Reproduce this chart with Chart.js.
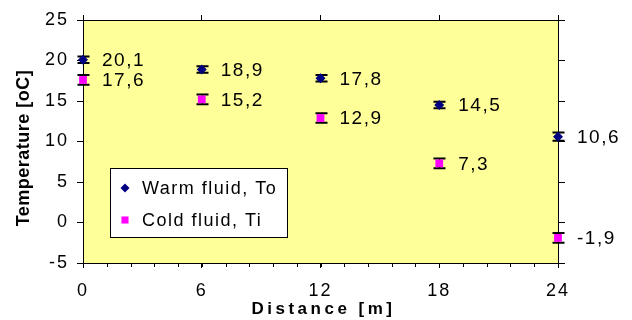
<!DOCTYPE html>
<html>
<head>
<meta charset="utf-8">
<script src="https://cdn.jsdelivr.net/npm/chart.js@4/dist/chart.umd.min.js"></script>
<style>
  html, body { margin: 0; padding: 0; background: #fff; }
  #wrap { width: 632px; height: 320px; }
</style>
</head>
<body>
<div id="wrap"><canvas id="chart" width="632" height="320"></canvas></div>
<script>
// data
const distances = [0, 6, 12, 18, 24];
const warmTemps = [20.1, 18.9, 17.8, 14.5, 10.6];
const coldTemps = [17.6, 15.2, 12.9, 7.3, -1.9];
const warmErr = [0.4, 0.4, 0.4, 0.4, 0.5];
const coldErr = [0.6, 0.6, 0.6, 0.6, 0.6];
const xTickValues = [0, 6, 12, 18, 24];
const yTickValues = [-5, 0, 5, 10, 15, 20, 25];
const xMinorStep = 1.2;

const fontFamily = "'Liberation Sans', Arial, sans-serif";

function toPoints(xs, ys) {
    return xs.map((x, i) => ({ x: x, y: ys[i] }));
}

function fixTicks(values) {
    return function (scale) {
        scale.ticks = values.map(v => ({ value: v }));
    };
}

// yellow plot background + global letter spacing for tick labels
const backgroundPlugin = {
    id: 'plotBackground',
    beforeDraw(chart) {
        const { ctx, chartArea } = chart;
        ctx.save();
        ctx.fillStyle = '#FFFF99';
        ctx.fillRect(chartArea.left, chartArea.top, chartArea.right - chartArea.left, chartArea.bottom - chartArea.top);
        ctx.restore();
        ctx.letterSpacing = '2px';
    }
};

// small ticks under the x axis
const minorTicksPlugin = {
    id: 'minorTicks',
    afterDraw(chart) {
        const ctx = chart.ctx;
        const xs = chart.scales.x;
        const bottom = chart.chartArea.bottom;
        ctx.save();
        ctx.strokeStyle = '#000';
        ctx.lineWidth = 1;
        for (let v = xs.min + xMinorStep; v < xs.max; v += xMinorStep) {
            const px = Math.round(xs.getPixelForValue(v)) + 0.5;
            ctx.beginPath();
            ctx.moveTo(px, bottom);
            ctx.lineTo(px, bottom + 4);
            ctx.stroke();
        }
        ctx.restore();
    }
};

const errorBarPlugin = {
    id: 'errorBars',
    beforeDatasetsDraw(chart) {
        const ctx = chart.ctx;
        const ys = chart.scales.y;
        ctx.save();
        ctx.strokeStyle = '#000';
        chart.data.datasets.forEach((ds, di) => {
            const meta = chart.getDatasetMeta(di);
            meta.data.forEach((pt, i) => {
                const v = ds.data[i].y;
                const e = ds.errors[i];
                const top = ys.getPixelForValue(v + e);
                const bot = ys.getPixelForValue(v - e);
                const x = Math.round(pt.x) + 0.5;
                ctx.lineWidth = 1;
                ctx.beginPath();
                ctx.moveTo(x, top);
                ctx.lineTo(x, bot);
                ctx.stroke();
                ctx.lineWidth = 2;
                ctx.beginPath();
                ctx.moveTo(x - 6, top);
                ctx.lineTo(x + 6, top);
                ctx.moveTo(x - 6, bot);
                ctx.lineTo(x + 6, bot);
                ctx.stroke();
            });
        });
        ctx.restore();
    }
};

const labelsPlugin = {
    id: 'valueLabels',
    afterDatasetsDraw(chart) {
        const ctx = chart.ctx;
        ctx.save();
        ctx.letterSpacing = '1.5px';
        ctx.font = '19px ' + fontFamily;
        ctx.fillStyle = '#000';
        ctx.textAlign = 'left';
        ctx.textBaseline = 'middle';
        chart.data.datasets.forEach((ds, di) => {
            const meta = chart.getDatasetMeta(di);
            meta.data.forEach((pt, i) => {
                const txt = ds.data[i].y.toFixed(1).replace('.', ',');
                ctx.fillText(txt, pt.x + 19, pt.y + 1);
            });
        });
        ctx.restore();
    }
};

// legend box inside the plot + axis titles
const legendTitlesPlugin = {
    id: 'legendTitles',
    afterDraw(chart) {
        const ctx = chart.ctx;
        const area = chart.chartArea;
        ctx.save();
        // legend
        const bx = 110, by = 168, bw = 177, bh = 69;
        ctx.fillStyle = '#fff';
        ctx.fillRect(bx, by, bw, bh);
        ctx.strokeStyle = '#000';
        ctx.lineWidth = 1;
        ctx.strokeRect(bx + 0.5, by + 0.5, bw, bh);
        ctx.letterSpacing = '1.5px';
        ctx.font = '18px ' + fontFamily;
        ctx.textAlign = 'left';
        ctx.textBaseline = 'middle';
        chart.data.datasets.forEach((ds, di) => {
            const y = by + 20 + di * 32;
            ctx.fillStyle = ds.backgroundColor;
            ctx.strokeStyle = ds.borderColor;
            Chart.helpers.drawPoint(ctx, {
                pointStyle: ds.pointStyle,
                radius: ds.pointRadius - 0.5,
                borderWidth: 0
            }, bx + 15, y);
            ctx.fillStyle = '#000';
            ctx.fillText(ds.label, bx + 32, y + 1);
        });
        // axis titles
        ctx.font = 'bold 17px ' + fontFamily;
        ctx.letterSpacing = '3.5px';
        ctx.textAlign = 'center';
        ctx.fillText('Distance [m]', (area.left + area.right) / 2 + 3, 309);
        ctx.translate(24, 148);
        ctx.rotate(-Math.PI / 2);
        ctx.font = 'bold 18px ' + fontFamily;
        ctx.letterSpacing = '0.5px';
        ctx.fillText('Temperature [oC]', 0, 0);
        ctx.restore();
    }
};

const tickFont = { family: fontFamily, size: 18 };
const axisGrid = { drawOnChartArea: false, color: '#000', lineWidth: 1 };
const axisBorder = { display: true, color: '#000', width: 1 };

new Chart(document.getElementById('chart'), {
    type: 'scatter',
    data: {
        datasets: [
            {
                label: 'Warm fluid, To',
                data: toPoints(distances, warmTemps),
                errors: warmErr,
                pointStyle: 'rectRot',
                pointRadius: 5,
                backgroundColor: '#000080',
                borderColor: '#000080',
                borderWidth: 0,
                clip: false
            },
            {
                label: 'Cold fluid, Ti',
                data: toPoints(distances, coldTemps),
                errors: coldErr,
                pointStyle: 'rect',
                pointRadius: 5.5,
                backgroundColor: '#FF00FF',
                borderColor: '#FF00FF',
                borderWidth: 0,
                clip: false
            }
        ]
    },
    options: {
        responsive: false,
        animation: false,
        devicePixelRatio: 1,
        layout: { padding: 0 },
        plugins: {
            legend: { display: false },
            tooltip: { enabled: false }
        },
        scales: {
            x: {
                type: 'linear', position: 'bottom', min: 0, max: 24,
                afterBuildTicks: fixTicks(xTickValues),
                afterFit: s => { s.height = 57; },
                ticks: { font: tickFont, color: '#000', padding: 12, maxRotation: 0 },
                grid: Object.assign({ tickLength: 5 }, axisGrid),
                border: axisBorder
            },
            x2: {
                type: 'linear', position: 'top', min: 0, max: 24,
                afterBuildTicks: fixTicks(xTickValues),
                afterFit: s => { s.height = 20; },
                ticks: { display: false },
                grid: Object.assign({ tickLength: 5 }, axisGrid),
                border: axisBorder
            },
            y: {
                type: 'linear', position: 'left', min: -5, max: 25,
                afterBuildTicks: fixTicks(yTickValues),
                afterFit: s => { s.width = 83; },
                ticks: { font: tickFont, color: '#000', padding: 8 },
                grid: Object.assign({ tickLength: 6 }, axisGrid),
                border: axisBorder
            },
            y2: {
                type: 'linear', position: 'right', min: -5, max: 25,
                afterBuildTicks: fixTicks(yTickValues),
                afterFit: s => { s.width = 74; },
                ticks: { display: false },
                grid: Object.assign({ tickLength: 7 }, axisGrid),
                border: axisBorder
            }
        }
    },
    plugins: [backgroundPlugin, errorBarPlugin, labelsPlugin, minorTicksPlugin, legendTitlesPlugin]
});
</script>
</body>
</html>
